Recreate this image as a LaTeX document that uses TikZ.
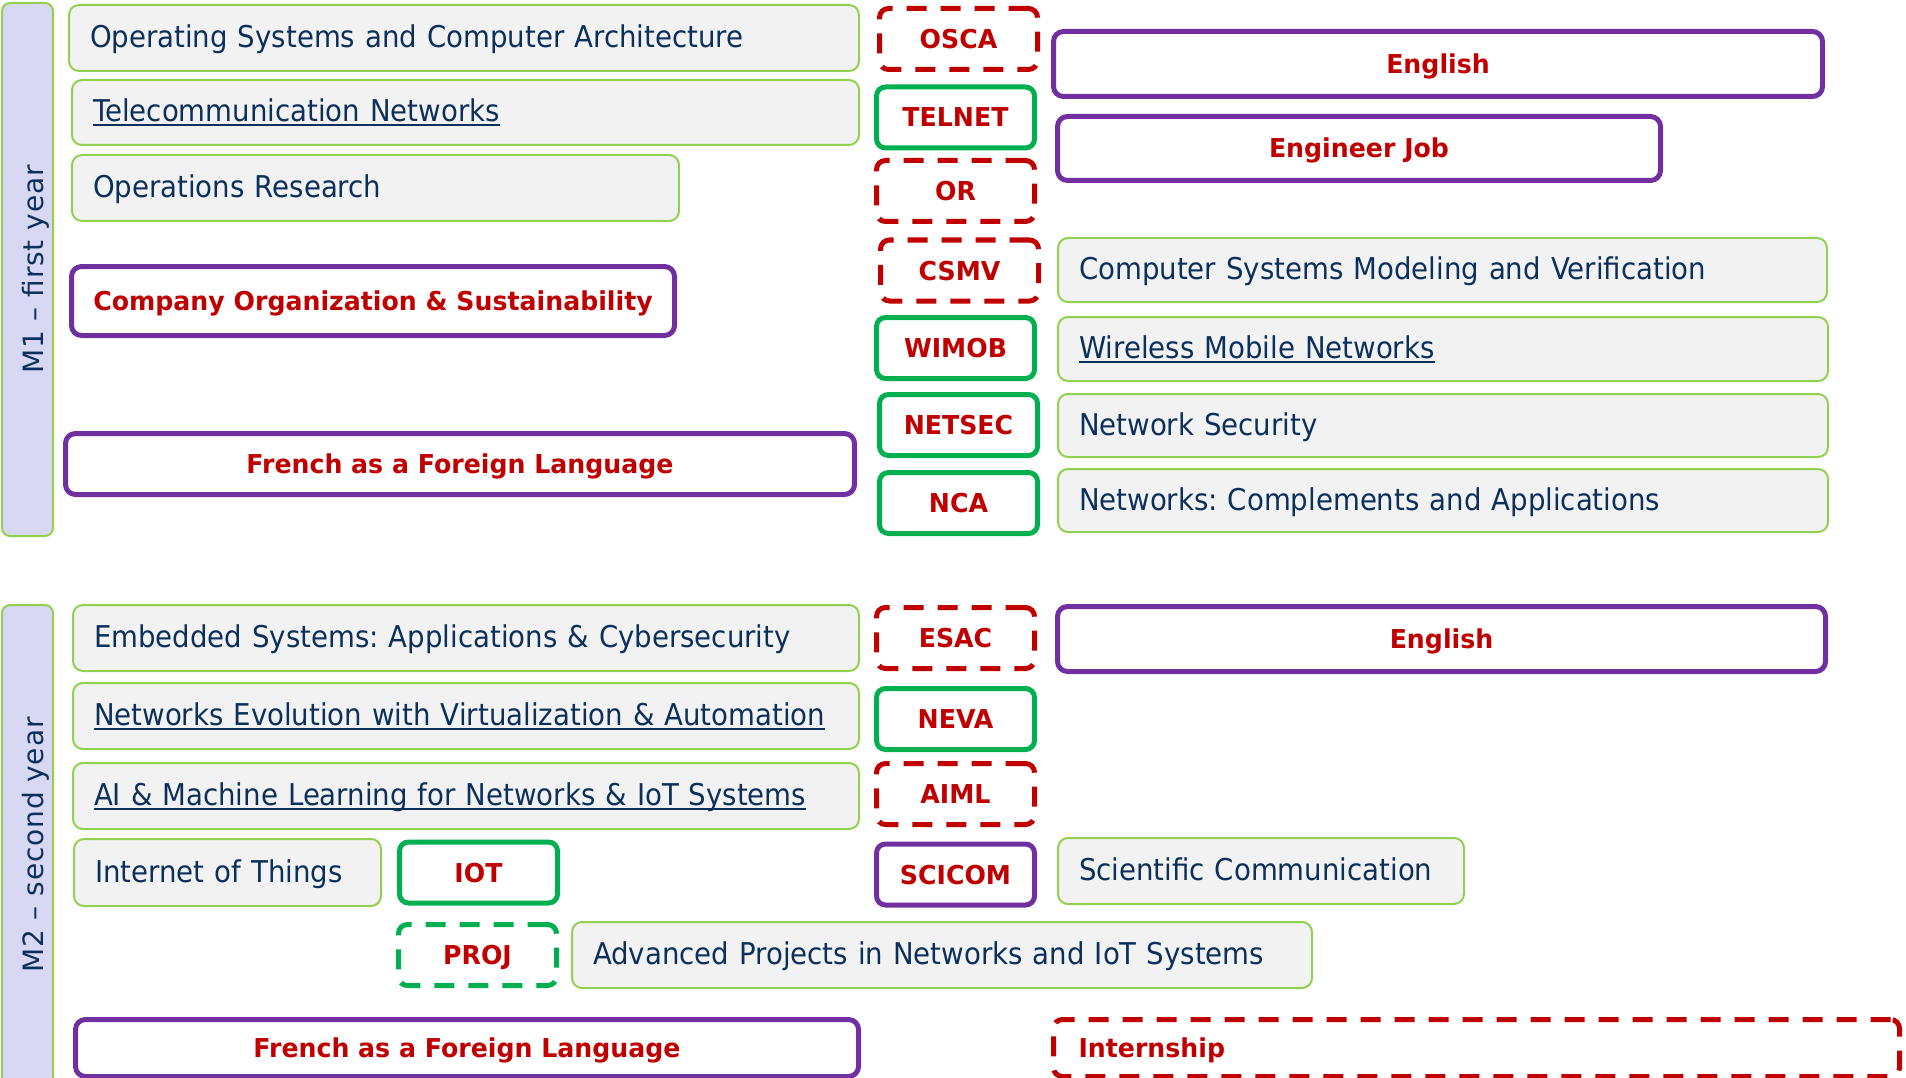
\documentclass[tikz,border=0pt]{standalone}
\usepackage{fontspec}
\setmainfont{DejaVu Sans}
\newfontfamily\coursefont{DejaVu Sans}[FakeStretch=0.92]
\newfontfamily\codefont{DejaVu Sans}[FakeStretch=0.97]
\newfontfamily\sidefont{DejaVu Sans}[LetterSpace=3]

\definecolor{coursenavy}{RGB}{12,48,92}
\definecolor{coursegray}{RGB}{242,242,242}
\definecolor{lightgreen}{RGB}{146,208,80}
\definecolor{codered}{RGB}{192,0,0}
\definecolor{coregreen}{RGB}{0,176,80}
\definecolor{transpurple}{RGB}{112,48,160}
\definecolor{barlavender}{RGB}{216,216,244}

\newcommand{\ulink}[1]{\setbox0\hbox{#1}\rlap{\rule[-4pt]{\wd0}{2pt}}\box0}

\begin{document}
\frenchspacing
\begin{tikzpicture}[x=1pt,y=1pt,yscale=-1,xscale=1,
  yearbar/.style={draw=lightgreen, line width=2pt, fill=barlavender, rounded corners=8pt, rotate=90, text=coursenavy, font=\sidefont\fontsize{28}{33}\selectfont, text height=31pt, text depth=0pt, minimum height=51pt},
  course/.style={draw=lightgreen, line width=2pt, fill=coursegray, rounded corners=10pt, text=coursenavy, font=\coursefont\fontsize{30}{36}\selectfont, text height=22pt, text depth=3pt, inner xsep=21pt, inner ysep=0pt, align=left},
  code/.style={line width=5pt, rounded corners=9pt, fill=white, text=codered, font=\codefont\bfseries\fontsize{26}{31}\selectfont, text height=19pt, text depth=0pt, inner sep=0pt, minimum width=158pt, minimum height=61pt},
  core/.style={code, draw=coregreen},
  optional/.style={code, draw=codered, dash pattern=on 20pt off 14pt},
  projopt/.style={code, draw=coregreen, dash pattern=on 20pt off 14pt},
  transverse/.style={code, draw=transpurple},
  widebox/.style={code, draw=transpurple, rounded corners=10pt}
]
\useasboundingbox (0,0) rectangle (1906,1078);
\clip (0,0) rectangle (1906,1078);

%Year bars
\node[yearbar, minimum width=533pt] (mone) at (27.5,269.5) {M1 – first year};
\node[yearbar, minimum width=480pt] (mtwo) at (27.5,845) {M2 – second year};

%M1 left column
\node[course, text width=748pt, minimum height=66pt] (osca) at (464,38) {Operating Systems and Computer Architecture};
\node[course, text width=745pt, minimum height=65pt] (telnet) at (465.5,112.5) {\ulink{Telecommunication Networks}};
\node[course, text width=565pt, minimum height=66pt] (opres) at (375.5,188) {Operations Research};
\node[widebox, minimum width=603pt, minimum height=69pt] (coorg) at (373,301) {Company Organization \& Sustainability};
\node[widebox, minimum width=789pt, minimum height=61pt] (fleone) at (460,464) {French as a Foreign Language};

%M1 codes
\node[optional] (oscacode) at (958.5,39) {OSCA};
\node[core] (telnetcode) at (955.5,117.5) {TELNET};
\node[optional] (orcode) at (955.5,191) {OR};
\node[optional] (csmvcode) at (959.5,270.5) {CSMV};
\node[core] (wimobcode) at (955.5,348) {WIMOB};
\node[core] (netseccode) at (958.5,425) {NETSEC};
\node[core] (ncacode) at (958.5,503) {NCA};

%M1 right column
\node[widebox, minimum width=769pt, minimum height=65pt] (engone) at (1438,64) {English};
\node[widebox, minimum width=603pt, minimum height=64pt] (engjob) at (1359,148.5) {Engineer Job};
\node[course, text width=727pt, minimum height=64pt] (csmv) at (1442.5,270) {Computer Systems Modeling and Verification};
\node[course, text width=728pt, minimum height=64pt] (wimob) at (1443,349) {\ulink{Wireless Mobile Networks}};
\node[course, text width=728pt, minimum height=63pt] (netsec) at (1443,425.5) {Network Security};
\node[course, text width=728pt, minimum height=63pt] (nca) at (1443,500.5) {Networks: Complements and Applications};

%M2 left column
\node[course, text width=744pt, minimum height=66pt] (esac) at (466,638) {Embedded Systems: Applications \& Cybersecurity};
\node[course, text width=744pt, minimum height=66pt] (neva) at (466,716) {\ulink{Networks Evolution with Virtualization \& Automation}};
\node[course, text width=744pt, minimum height=66pt] (aiml) at (466,796) {\ulink{AI \& Machine Learning for Networks \& IoT Systems}};
\node[course, text width=265pt, minimum height=67pt] (iot) at (227.5,872.5) {Internet of Things};
\node[core] (iotcode) at (478.5,872.5) {IOT};
\node[projopt] (projcode) at (477.5,955) {PROJ};
\node[course, text width=698pt, minimum height=66pt] (proj) at (942,955) {Advanced Projects in Networks and IoT Systems};
\node[widebox, minimum width=783pt, minimum height=57pt] (fletwo) at (467,1048) {French as a Foreign Language};

%M2 codes
\node[optional] (esaccode) at (955.5,638) {ESAC};
\node[core] (nevacode) at (955.5,719) {NEVA};
\node[optional] (aimlcode) at (955.5,794) {AIML};
\node[transverse] (scicomcode) at (955.5,874.5) {SCICOM};

%M2 right column
\node[widebox, minimum width=768pt, minimum height=65pt] (engtwo) at (1441.5,639) {English};
\node[course, text width=364pt, minimum height=66pt] (scicom) at (1261,871) {Scientific Communication};
\node[optional, text width=796pt, align=left, inner xsep=25pt, minimum height=57pt] (intern) at (1476.5,1048) {Internship};
\end{tikzpicture}
\end{document}
